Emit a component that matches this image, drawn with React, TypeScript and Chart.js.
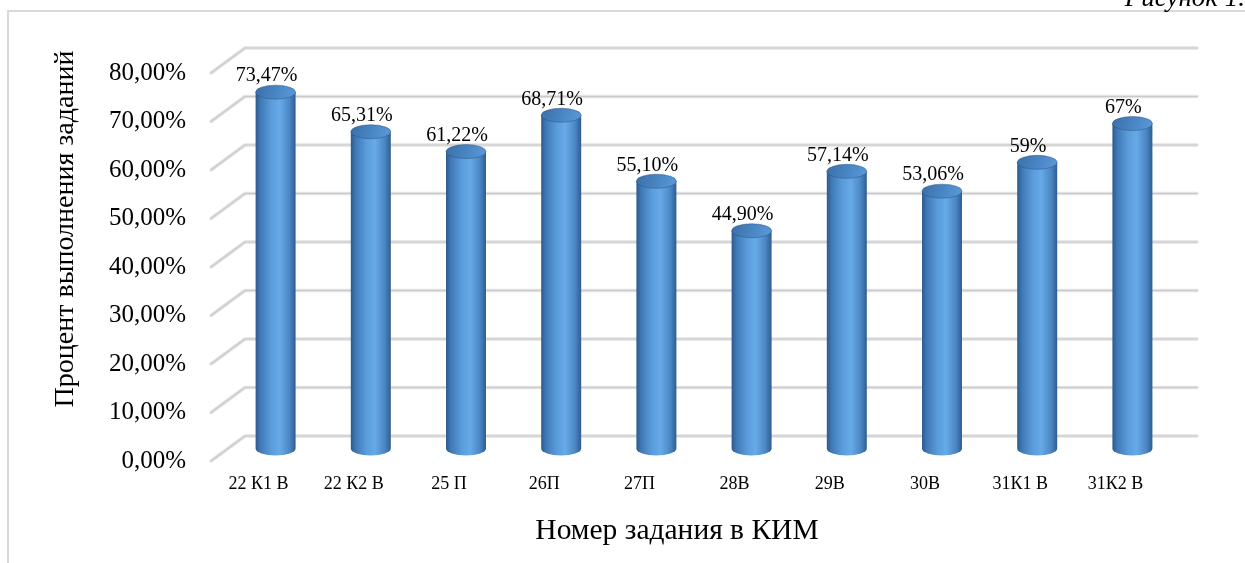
import { useEffect, useRef } from 'react';
import { Chart, registerables } from 'chart.js';

Chart.register(...registerables);

const categories = ['22 К1 В', '22 К2 В', '25 П', '26П', '27П', '28В', '29В', '30В', '31К1 В', '31К2 В'];
const values = [73.47, 65.31, 61.22, 68.71, 55.1, 44.9, 57.14, 53.06, 59, 67];
const valueLabels = ['73,47%', '65,31%', '61,22%', '68,71%', '55,10%', '44,90%', '57,14%', '53,06%', '59%', '67%'];
const yMin = 0;
const yMax = 80;
const yStep = 10;
const yTitle = 'Процент выполнения заданий';
const xTitle = 'Номер задания в КИМ';
const caption = 'Рисунок 1.';

const FONT = "'Liberation Serif', 'Times New Roman', serif";
const DEPTH_X = 34;
const DEPTH_Y = -25;
const RY = 7;

const fmtTick = (v: number) => v.toFixed(2).replace('.', ',') + '%';

const threeD = {
  id: 'threeD',
  beforeDatasetsDraw(chart: any) {
    const { ctx, chartArea } = chart;
    const y = chart.scales.y;
    ctx.save();
    ctx.lineCap = 'round';
    ctx.lineJoin = 'round';
    for (const t of y.ticks) {
      const fy = y.getPixelForValue(t.value);
      const bx = chartArea.left + DEPTH_X;
      const by = fy + DEPTH_Y;
      const path = () => {
        ctx.beginPath();
        ctx.moveTo(chartArea.left, fy);
        ctx.lineTo(bx, by);
        ctx.lineTo(chartArea.right + DEPTH_X, by);
      };
      path();
      ctx.strokeStyle = '#e2e2e2';
      ctx.lineWidth = 3.5;
      ctx.stroke();
      path();
      ctx.strokeStyle = '#cacaca';
      ctx.lineWidth = 1.2;
      ctx.stroke();
    }
    ctx.restore();
  },
  afterDatasetsDraw(chart: any) {
    const { ctx } = chart;
    const meta = chart.getDatasetMeta(0);
    ctx.save();
    meta.data.forEach((el: any, i: number) => {
      const props = el.getProps(['x', 'y', 'base', 'width'], true);
      const cx = props.x + DEPTH_X / 2;
      const top = props.y + DEPTH_Y / 2;
      const base = props.base + DEPTH_Y / 2;
      const rx = props.width / 2;
      // body
      const g = ctx.createLinearGradient(cx - rx, 0, cx + rx, 0);
      g.addColorStop(0, '#2c5a8a');
      g.addColorStop(0.12, '#3f79b6');
      g.addColorStop(0.4, '#5b9ddc');
      g.addColorStop(0.6, '#67aae8');
      g.addColorStop(0.85, '#4a86c3');
      g.addColorStop(1, '#2f5d8d');
      ctx.beginPath();
      ctx.moveTo(cx - rx, top);
      ctx.lineTo(cx - rx, base);
      ctx.ellipse(cx, base, rx, RY, 0, Math.PI, 0, true);
      ctx.lineTo(cx + rx, top);
      ctx.closePath();
      ctx.fillStyle = g;
      ctx.fill();
      // top
      const tg = ctx.createLinearGradient(cx - rx, top - RY, cx + rx, top + RY);
      tg.addColorStop(0, '#3a6fa8');
      tg.addColorStop(0.6, '#4c89c8');
      tg.addColorStop(1, '#5c9ad8');
      ctx.beginPath();
      ctx.ellipse(cx, top, rx, RY, 0, 0, Math.PI * 2);
      ctx.fillStyle = tg;
      ctx.fill();
      ctx.strokeStyle = 'rgba(40,80,125,0.6)';
      ctx.lineWidth = 0.8;
      ctx.stroke();
      // label
      ctx.fillStyle = '#000';
      ctx.font = `20px ${FONT}`;
      ctx.textAlign = 'center';
      ctx.textBaseline = 'middle';
      ctx.fillText(valueLabels[i], props.x + 8, top - 16);
    });
    ctx.restore();
  },
  afterDraw(chart: any) {
    const { ctx } = chart;
    ctx.save();
    // frame
    ctx.strokeStyle = '#d9d9d9';
    ctx.lineWidth = 2;
    ctx.beginPath();
    ctx.moveTo(8, 563);
    ctx.lineTo(8, 11);
    ctx.lineTo(1245, 11);
    ctx.stroke();
    // caption
    ctx.fillStyle = '#000';
    ctx.font = `italic 27px ${FONT}`;
    ctx.textAlign = 'right';
    ctx.textBaseline = 'alphabetic';
    ctx.fillText(caption, 1245, 6);
    // titles
    ctx.font = `29.5px ${FONT}`;
    ctx.textAlign = 'center';
    ctx.textBaseline = 'middle';
    ctx.fillText(xTitle, 677, 531);
    ctx.font = `28px ${FONT}`;
    ctx.translate(66, 229);
    ctx.rotate(-Math.PI / 2);
    ctx.fillText(yTitle, 0, 0);
    ctx.restore();
  },
};

export default function App() {
  const ref = useRef<HTMLCanvasElement>(null);
  useEffect(() => {
    document.body.style.margin = '0';
    const chart = new Chart(ref.current!, {
      type: 'bar',
      data: {
        labels: categories,
        datasets: [
          {
            data: values,
            backgroundColor: 'rgba(0,0,0,0)',
            borderWidth: 0,
            barPercentage: 0.42,
            categoryPercentage: 1,
          },
        ],
      },
      options: {
        responsive: false,
        animation: false,
        devicePixelRatio: 1,
        layout: { padding: { left: 0, top: 73, right: 82, bottom: 0 } },
        plugins: { legend: { display: false }, tooltip: { enabled: false }, title: { display: false } },
        scales: {
          x: {
            grid: { display: false },
            border: { display: false },
            ticks: { color: '#000', font: { family: FONT, size: 18 }, padding: 4, maxRotation: 0, autoSkip: false },
            afterFit: (s: any) => {
              s.height = 102;
            },
          },
          y: {
            min: yMin,
            max: yMax,
            grid: { display: false },
            border: { display: false },
            ticks: {
              stepSize: yStep,
              color: '#000',
              font: { family: FONT, size: 25 },
              padding: 17,
              callback: (v: any) => fmtTick(Number(v)),
            },
            afterFit: (s: any) => {
              s.width = 211;
            },
          },
        },
      },
      plugins: [threeD],
    });
    return () => chart.destroy();
  }, []);
  return (
    <div style={{ width: 1245, height: 563, background: '#fff' }}>
      <canvas ref={ref} width={1245} height={563} style={{ display: 'block' }} />
    </div>
  );
}
